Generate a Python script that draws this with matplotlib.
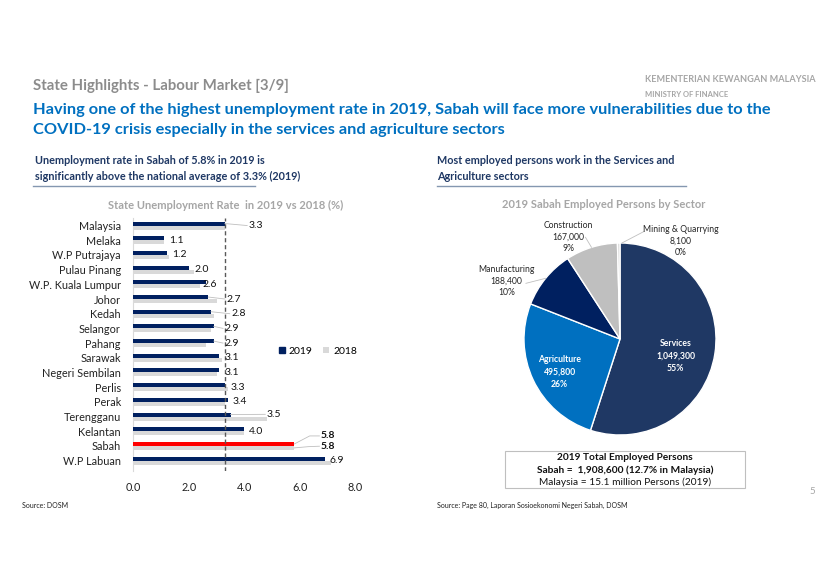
import numpy as np
import matplotlib
matplotlib.use("Agg")
import matplotlib.pyplot as plt
from matplotlib.patches import Rectangle

plt.rcParams['font.family'] = ['Lato', 'DejaVu Sans']

# ---- data ----
states = ['Malaysia', 'Melaka', 'W.P Putrajaya', 'Pulau Pinang', 'W.P. Kuala Lumpur',
          'Johor', 'Kedah', 'Selangor', 'Pahang', 'Sarawak', 'Negeri Sembilan',
          'Perlis', 'Perak', 'Terengganu', 'Kelantan', 'Sabah', 'W.P Labuan']
rate_2019 = [3.3, 1.1, 1.2, 2.0, 2.6, 2.7, 2.8, 2.9, 2.9, 3.1, 3.1, 3.3, 3.4, 3.5, 4.0, 5.8, 6.9]
rate_2018 = [3.3, 1.1, 1.3, 2.2, 2.4, 3.0, 2.9, 2.8, 2.6, 3.2, 3.0, 3.4, 3.3, 4.8, 4.0, 5.8, 7.1]
national_avg = 3.3

sectors = ['Services', 'Agriculture', 'Manufacturing', 'Construction', 'Mining & Quarrying']
employed = [1049300, 495800, 188400, 167000, 8100]

# ---- colours ----
NAVY = '#1F3864'
BLUE = '#0070C0'
DARK = '#002060'
GREY_TITLE = '#8C8C8C'

fig = plt.figure(figsize=(8.4, 5.7), dpi=100)
W, H = 840, 570


def fx(px):
    return px / W


def fy(py):
    return 1 - py / H


# ---- header texts ----
fig.text(fx(33), fy(86), 'State Highlights - Labour Market [3/9]', color=GREY_TITLE,
         fontsize=10.8, fontweight='bold', va='center')
fig.text(fx(33), fy(110), 'Having one of the highest unemployment rate in 2019, Sabah will face more vulnerabilities due to the',
         color=BLUE, fontsize=11.8, fontweight='bold', va='center')
fig.text(fx(33), fy(130), 'COVID-19 crisis especially in the services and agriculture sectors',
         color=BLUE, fontsize=11.8, fontweight='bold', va='center')

fig.text(fx(645), fy(80), 'KEMENTERIAN KEWANGAN MALAYSIA', color='#A6A6A6',
         fontsize=6.6, fontweight='bold', va='center')
fig.text(fx(645), fy(94), 'MINISTRY OF FINANCE', color='#A6A6A6',
         fontsize=5.5, fontweight='bold', va='center')

fig.text(fx(35), fy(160), 'Unemployment rate in Sabah of 5.8% in 2019 is', color=NAVY,
         fontsize=7.85, fontweight='bold', va='center')
fig.text(fx(35), fy(176), 'significantly above the national average of 3.3% (2019)', color=NAVY,
         fontsize=7.85, fontweight='bold', va='center')
fig.add_artist(plt.Line2D([fx(33), fx(255)], [fy(186), fy(186)], color='#8497B0', lw=1))

fig.text(fx(437), fy(160), 'Most employed persons work in the Services and', color=NAVY,
         fontsize=7.85, fontweight='bold', va='center')
fig.text(fx(437), fy(176), 'Agriculture sectors', color=NAVY,
         fontsize=7.85, fontweight='bold', va='center')
fig.add_artist(plt.Line2D([fx(437), fx(686)], [fy(186), fy(186)], color='#8497B0', lw=1))

fig.text(fx(226), fy(205), 'State Unemployment Rate  in 2019 vs 2018 (%)', color='#A6A6A6',
         fontsize=8, fontweight='bold', ha='center', va='center')
fig.text(fx(604), fy(205), '2019 Sabah Employed Persons by Sector', color='#A6A6A6',
         fontsize=8, fontweight='bold', ha='center', va='center')

fig.text(fx(22), fy(505), 'Source: DOSM', fontsize=5, va='center', color='#222222')
fig.text(fx(437), fy(505), 'Source: Page 80, Laporan Sosioekonomi Negeri Sabah, DOSM',
         fontsize=5, va='center', color='#222222')
fig.text(fx(812), fy(492), '5', fontsize=7, color='#A6A6A6', ha='center', va='center')

# ---- bar chart ----
ax = fig.add_axes([fx(133.3), fy(470.9), fx(355.5) - fx(133.3), fy(218.2) - fy(470.9)])
y = np.arange(len(states))
bh = 0.27
c19 = [('#FF0000' if s == 'Sabah' else DARK) for s in states]
ax.barh(y + bh / 2, rate_2018, height=bh, color='#D9D9D9', label='2018', zorder=2)
ax.barh(y - bh / 2, rate_2019, height=bh, color=c19, label='2019', zorder=3)
ax.axvline(national_avg, color='#595959', lw=1, ls=(0, (3, 2)), zorder=4)

ax.set_xlim(0, 8)
ax.set_ylim(len(states) - 0.3, -0.5)
ax.set_xticks([0, 2, 4, 6, 8])
ax.set_xticklabels([f'{v:.1f}' for v in [0, 2, 4, 6, 8]], fontsize=7.8, color='#222222')
ax.set_yticks(y)
ax.set_yticklabels(states, fontsize=7.8, color='#222222')
ax.tick_params(length=0, pad=8)
ax.tick_params(axis='y', pad=9)
for s in ['top', 'right', 'bottom']:
    ax.spines[s].set_visible(False)
ax.spines['left'].set_color('#D9D9D9')

# value labels (layout positions for the labels, in data units)
label_x = [4.15, 1.3, 1.4, 2.2, 2.48, 3.35, 3.52, 3.28, 3.28, 3.28, 3.28, 3.5, 3.58, 4.8, 4.15, 6.75, 7.08]
for i, (v19, v18, lx) in enumerate(zip(rate_2019, rate_2018, label_x)):
    if states[i] == 'Sabah':
        ax.text(lx, i - 0.68, f'{v19:.1f}', fontsize=7.5, fontweight='bold', va='center', color='#111111')
        ax.text(lx, i + 0.02, f'{v18:.1f}', fontsize=7.5, fontweight='bold', va='center', color='#111111')
        ax.plot([v19, 6.35, lx - 0.05], [i - bh / 2, i - 0.68, i - 0.68], color='#BFBFBF', lw=0.6, zorder=5)
        ax.plot([v18, 6.3, lx - 0.05], [i + bh / 2, i + 0.05, i + 0.02], color='#BFBFBF', lw=0.6, zorder=5)
        continue
    ty = i - 0.15 if states[i] == 'Terengganu' else i
    ax.text(lx, ty, f'{v19:.1f}', fontsize=7.5, va='center', color='#111111', zorder=6)
    if lx - v19 > 0.3:
        ax.plot([v19, lx - 0.05], [i - bh / 2, ty], color='#BFBFBF', lw=0.6, zorder=5)

leg = ax.legend(handles=[ax.patches[len(states)], ax.patches[0]], labels=['2019', '2018'],
                loc='center', bbox_to_anchor=(fx(318), fy(351)), bbox_transform=fig.transFigure,
                ncol=2, frameon=False, fontsize=7.5, handlelength=0.6, handleheight=0.6,
                handletextpad=0.4, columnspacing=1.0)
leg.legend_handles[0].set_color(DARK)

# ---- pie chart ----
R = 96
cx, cy = 620, 339
pax = fig.add_axes([fx(cx - R), fy(cy + R), 2 * R / W, 2 * R / H])
pie_colors = [NAVY, BLUE, DARK, '#BFBFBF', '#D9D9D9']
wedges, _ = pax.pie(employed, colors=pie_colors, startangle=90, counterclock=False,
                    wedgeprops=dict(edgecolor='white', linewidth=1))
pax.set_xlim(-1, 1)
pax.set_ylim(-1, 1)
pax.set_aspect('auto')
pax.axis('off')

total = sum(employed)
# label anchor positions (axes units), layout only
label_pos = [(0.58, -0.18), (-0.63, -0.34), (-1.18, 0.60), (-0.54, 1.06), (0.63, 1.02)]
inside = [True, True, False, False, False]
for w, name, val, pos, ins in zip(wedges, sectors, employed, label_pos, inside):
    pct = f'{round(val / total * 100):d}%'
    txt = f'{name}\n{val:,}\n{pct}'
    if ins:
        pax.text(pos[0], pos[1], txt, ha='center', va='center', color='white',
                 fontsize=6.2, fontweight='bold', linespacing=1.5)
    else:
        pax.text(pos[0], pos[1], txt, ha='center', va='center', color='#262626',
                 fontsize=6.2, linespacing=1.35)
        theta = np.deg2rad((w.theta1 + w.theta2) / 2)
        ex, ey = 1.0 * np.cos(theta), 1.0 * np.sin(theta)
        if name.startswith('Manu'):
            pax.plot([-0.98, ex], [0.58, ey], color='#BFBFBF', lw=0.6, clip_on=False)
        elif name.startswith('Cons'):
            pax.plot([-0.36, ex], [1.06, ey], color='#BFBFBF', lw=0.6, clip_on=False)
        else:
            pax.plot([0.25, 0.02], [1.12, 1.0], color='#BFBFBF', lw=0.6, clip_on=False)

# ---- summary box ----
fig.add_artist(Rectangle((fx(505), fy(488)), fx(745) - fx(505), fy(451) - fy(488),
                         fill=False, edgecolor='#BFBFBF', lw=0.8))
fig.text(fx(625), fy(458), '2019 Total Employed Persons', ha='center', va='center',
         fontsize=7.3, fontweight='bold', color='#111111')
fig.text(fx(625), fy(470), f'Sabah =  {total:,} (12.7% in Malaysia)', ha='center', va='center',
         fontsize=7.3, fontweight='bold', color='#111111')
fig.text(fx(625), fy(482), 'Malaysia = 15.1 million Persons (2019)', ha='center', va='center',
         fontsize=7.3, color='#111111')

fig.savefig('out.png', dpi=100)
